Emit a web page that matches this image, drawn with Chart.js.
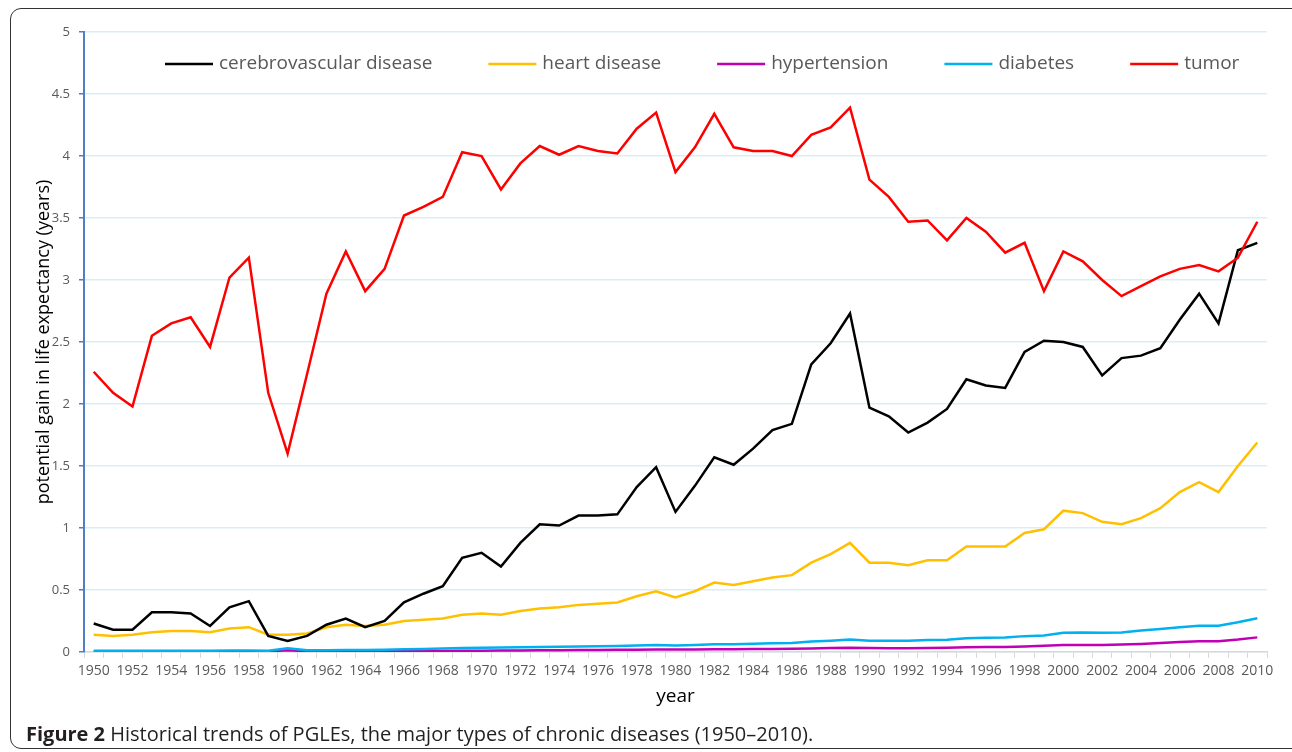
<!DOCTYPE html>
<html>
<head>
<meta charset="utf-8">
<script src="https://cdn.jsdelivr.net/npm/chart.js@4/dist/chart.umd.min.js"></script>
<style>
  html, body { margin: 0; padding: 0; background: #fff; }
  body { width: 1292px; height: 752px; position: relative; overflow: hidden; font-family: "Open Sans", sans-serif; }
  #frame { position: absolute; left: 10px; top: 8px; width: 1300px; height: 741px; border: 1.5px solid #333; border-radius: 11px; box-sizing: border-box; }
  #wrap { position: absolute; left: 0; top: 0; width: 1292px; height: 752px; }
  #caption { position: absolute; left: 26px; top: 720px; font-size: 20px; color: #231f20; white-space: nowrap; }
  #caption b { font-weight: 700; }
</style>
</head>
<body>
<div id="frame"></div>
<div id="wrap"><canvas id="chart" width="1292" height="752"></canvas></div>
<div id="caption"><b>Figure 2</b> Historical trends of PGLEs, the major types of chronic diseases (1950–2010).</div>
<script>
// years 1950..2010
const years = [
  "1950","1951","1952","1953","1954","1955","1956","1957","1958","1959",
  "1960","1961","1962","1963","1964","1965","1966","1967","1968","1969",
  "1970","1971","1972","1973","1974","1975","1976","1977","1978","1979",
  "1980","1981","1982","1983","1984","1985","1986","1987","1988","1989",
  "1990","1991","1992","1993","1994","1995","1996","1997","1998","1999",
  "2000","2001","2002","2003","2004","2005","2006","2007","2008","2009","2010"
];

const cerebrovascular = [
  0.23, 0.18, 0.18, 0.32, 0.32, 0.31, 0.21, 0.36, 0.41, 0.13,
  0.09, 0.13, 0.22, 0.27, 0.20, 0.25, 0.40, 0.47, 0.53, 0.76,
  0.80, 0.69, 0.88, 1.03, 1.02, 1.10, 1.10, 1.11, 1.33, 1.49,
  1.13, 1.34, 1.57, 1.51, 1.64, 1.79, 1.84, 2.32, 2.49, 2.73,
  1.97, 1.90, 1.77, 1.85, 1.96, 2.20, 2.15, 2.13, 2.42, 2.51,
  2.50, 2.46, 2.23, 2.37, 2.39, 2.45, 2.68, 2.89, 2.65, 3.24, 3.30
];

const heart = [
  0.14, 0.13, 0.14, 0.16, 0.17, 0.17, 0.16, 0.19, 0.20, 0.14,
  0.14, 0.15, 0.20, 0.22, 0.21, 0.22, 0.25, 0.26, 0.27, 0.30,
  0.31, 0.30, 0.33, 0.35, 0.36, 0.38, 0.39, 0.40, 0.45, 0.49,
  0.44, 0.49, 0.56, 0.54, 0.57, 0.60, 0.62, 0.72, 0.79, 0.88,
  0.72, 0.72, 0.70, 0.74, 0.74, 0.85, 0.85, 0.85, 0.96, 0.99,
  1.14, 1.12, 1.05, 1.03, 1.08, 1.16, 1.29, 1.37, 1.29, 1.50, 1.69
];

const hypertension = [
  0.003, 0.003, 0.003, 0.003, 0.003, 0.003, 0.003, 0.003, 0.003, 0.003,
  0.015, 0.004, 0.004, 0.005, 0.005, 0.006, 0.006, 0.007, 0.008, 0.010,
  0.011, 0.012, 0.013, 0.014, 0.015, 0.016, 0.017, 0.018, 0.019, 0.020,
  0.020, 0.021, 0.022, 0.023, 0.024, 0.025, 0.026, 0.029, 0.032, 0.035,
  0.032, 0.031, 0.030, 0.032, 0.034, 0.038, 0.040, 0.040, 0.045, 0.050,
  0.056, 0.056, 0.056, 0.060, 0.065, 0.072, 0.080, 0.086, 0.087, 0.100, 0.118
];

const diabetes = [
  0.010, 0.010, 0.010, 0.010, 0.010, 0.010, 0.010, 0.012, 0.012, 0.010,
  0.030, 0.015, 0.015, 0.016, 0.017, 0.018, 0.022, 0.025, 0.028, 0.032,
  0.034, 0.036, 0.038, 0.040, 0.042, 0.044, 0.046, 0.048, 0.052, 0.056,
  0.052, 0.056, 0.062, 0.062, 0.066, 0.070, 0.073, 0.085, 0.091, 0.100,
  0.091, 0.091, 0.090, 0.096, 0.098, 0.110, 0.115, 0.116, 0.128, 0.133,
  0.155, 0.158, 0.155, 0.158, 0.174, 0.186, 0.199, 0.212, 0.212, 0.240, 0.272
];

const tumor = [
  2.26, 2.09, 1.98, 2.55, 2.65, 2.70, 2.46, 3.02, 3.18, 2.09,
  1.60, 2.24, 2.89, 3.23, 2.91, 3.09, 3.52, 3.59, 3.67, 4.03,
  4.00, 3.73, 3.94, 4.08, 4.01, 4.08, 4.04, 4.02, 4.22, 4.35,
  3.87, 4.07, 4.34, 4.07, 4.04, 4.04, 4.00, 4.17, 4.23, 4.39,
  3.81, 3.67, 3.47, 3.48, 3.32, 3.50, 3.39, 3.22, 3.30, 2.91,
  3.23, 3.15, 3.00, 2.87, 2.95, 3.03, 3.09, 3.12, 3.07, 3.18, 3.47
];

const seriesLabels = ["cerebrovascular disease", "heart disease", "hypertension", "diabetes", "tumor"];
const seriesColors = ["#000000", "#ffc000", "#c000b4", "#00b0f0", "#ff0000"];
const seriesOrder = [1, 2, 4, 3, 0];
const seriesData = [cerebrovascular, heart, hypertension, diabetes, tumor];

const textGray = "#595959";

// legend drawn inside the plot, like the original
const innerLegend = {
  id: "innerLegend",
  afterDraw(chart) {
    const ctx = chart.ctx;
    ctx.save();
    ctx.font = "19px 'Open Sans'";
    ctx.textBaseline = "middle";
    let x = 165;
    const y = 64;
    chart.data.datasets.forEach(ds => {
      ctx.strokeStyle = ds.borderColor;
      ctx.lineWidth = 2.5;
      ctx.beginPath();
      ctx.moveTo(x, y);
      ctx.lineTo(x + 48, y);
      ctx.stroke();
      ctx.fillStyle = textGray;
      ctx.fillText(ds.label, x + 54, y);
      x += 54 + ctx.measureText(ds.label).width + 56;
    });
    ctx.restore();
  }
};

const ctx = document.getElementById("chart").getContext("2d");
new Chart(ctx, {
  type: "line",
  data: {
    labels: years,
    datasets: seriesData.map((d, i) => ({
      label: seriesLabels[i],
      data: d,
      borderColor: seriesColors[i],
      backgroundColor: seriesColors[i],
      borderWidth: 2.5,
      pointRadius: 0,
      tension: 0,
      order: seriesOrder[i]
    }))
  },
  options: {
    responsive: false,
    animation: false,
    layout: { padding: { left: 29, right: 25, top: 32, bottom: 40 } },
    plugins: {
      legend: { display: false },
      tooltip: { enabled: false }
    },
    scales: {
      x: {
        offset: true,
        afterFit: s => { s.height = 60; },
        grid: { drawOnChartArea: false, color: "#d9d9d9", tickLength: 6, offset: true },
        border: { color: "#d9d9d9", width: 1.5 },
        ticks: {
          autoSkip: false,
          maxRotation: 0,
          padding: 5,
          color: textGray,
          font: { family: "Open Sans", size: 14 },
          callback: function (v, i) { return i % 2 === 0 ? this.getLabelForValue(v) : ""; }
        },
        title: { display: true, text: "year", color: "#000", font: { family: "Open Sans", size: 19 }, padding: { top: 4, bottom: 4 } }
      },
      y: {
        min: 0,
        max: 5,
        afterFit: s => { s.width = 55; },
        grid: { color: "#dcedf4", lineWidth: 1.5, tickColor: "#4f7fc4", tickLength: 5 },
        border: { color: "#4f7fc4", width: 2 },
        ticks: {
          stepSize: 0.5,
          padding: 9,
          color: textGray,
          font: { family: "Open Sans", size: 13 },
          callback: v => String(v)
        },
        title: { display: true, text: "potential gain in life expectancy (years)", color: "#000", font: { family: "Open Sans", size: 18 }, padding: { top: 4, bottom: 4 } }
      }
    }
  },
  plugins: [innerLegend]
});
</script>
</body>
</html>
